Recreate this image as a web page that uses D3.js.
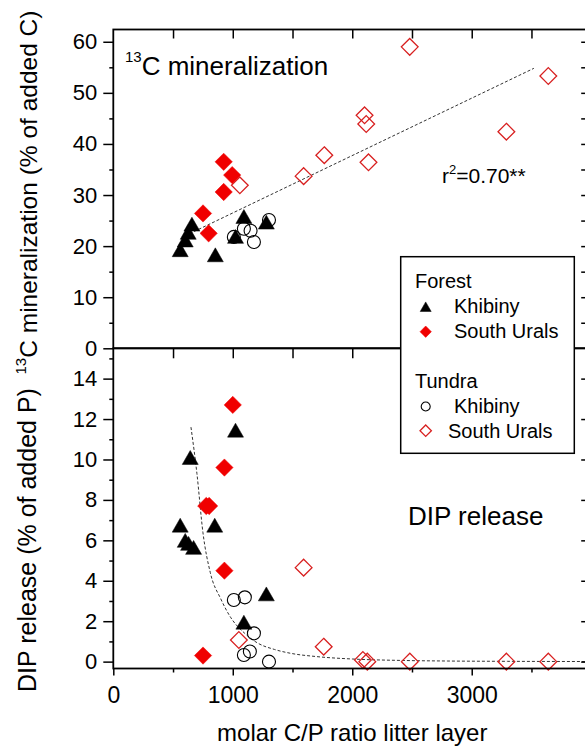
<!DOCTYPE html>
<html>
<head>
<meta charset="utf-8">
<script src="https://cdn.jsdelivr.net/npm/d3@7"></script>
<style>
  html, body { margin: 0; padding: 0; background: #fff; }
  svg { display: block; font-family: "Liberation Sans", Arial, sans-serif; }
</style>
</head>
<body>
<svg id="chart" width="585" height="747"></svg>
<script>
// ---------- DATA ----------
// Panel A: 13C mineralization (% of added C) vs molar C/P ratio
const forestKhibinyCP_C = [560, 602, 627, 658, 854, 1023, 1093, 1281];
const forestKhibinyMin  = [19.3, 21.2, 22.7, 24.3, 18.3, 21.9, 25.8, 24.7];
const forestUralsCP_C   = [751, 798, 924, 924, 995];
const forestUralsMin    = [26.4, 22.5, 36.5, 30.6, 33.9];
const tundraKhibinyCP_C = [1009, 1093, 1149, 1177, 1303];
const tundraKhibinyMin  = [21.8, 23.4, 23.0, 20.8, 25.1];
const tundraUralsCP_C   = [1059, 1593, 1766, 2103, 2117, 2136, 2481, 3290, 3641];
const tundraUralsMin    = [31.9, 33.7, 37.8, 45.6, 43.9, 36.4, 59.0, 42.4, 53.3];

// Panel B: DIP release (% of added P) vs molar C/P ratio
const forestKhibinyCP_P = [560, 602, 630, 672, 644, 849, 1023, 1093, 1281];
const forestKhibinyDIP  = [6.75, 6.0, 5.85, 5.65, 10.1, 6.75, 11.45, 1.95, 3.35];
const forestUralsCP_P   = [751, 778, 802, 930, 930, 1000];
const forestUralsDIP    = [0.3, 7.7, 7.7, 4.5, 9.6, 12.7];
const tundraKhibinyCP_P = [1009, 1101, 1177, 1093, 1143, 1303];
const tundraKhibinyDIP  = [3.05, 3.18, 1.4, 0.33, 0.5, 0.0];
const tundraUralsCP_P   = [1051, 1593, 1761, 2089, 2126, 2482, 3290, 3641];
const tundraUralsDIP    = [1.07, 4.65, 0.74, 0.08, 0.0, 0.0, 0.0, 0.0];

// Fitted trend lines
const minFitCP  = [600, 3520];
const minFitVal = [22.0, 54.8];
const dipFitCP  = [650, 700, 750, 812, 900, 981, 1100, 1205, 1350, 1486, 1700, 2000, 2400, 2800, 3300, 4000];
const dipFitVal = [11.6, 9.3, 6.4, 4.4, 3.1, 2.2, 1.4, 0.93, 0.6, 0.41, 0.25, 0.13, 0.06, 0.03, 0.015, 0.005];

// Ticks
const xTickLabels = [0, 1000, 2000, 3000];
const xMinorTicks = [500, 1500, 2500, 3500];
const xFrameTicks = [500, 1000, 1500, 2000, 2500, 3000, 3500];
const cTicks = [0, 10, 20, 30, 40, 50, 60];
const cMinor = [5, 15, 25, 35, 45, 55];
const cRight = [5, 10, 15, 20, 25, 30, 35, 40, 45, 50, 55, 60];
const pTicks = [0, 2, 4, 6, 8, 10, 12, 14];
const pMinor = [1, 3, 5, 7, 9, 11, 13, 15];

// Legend
const legendGroups = ["Forest", "Tundra"];
const legendSites  = ["Khibiny", "South Urals"];

// ---------- DRAWING ----------
const svg = d3.select("#chart");
const FONT = '"Liberation Sans", Arial, sans-serif';
const RED = "#f00000";

const x = d3.scaleLinear().domain([0, 4000]).range([113.3, 591.2]);
const yC = d3.scaleLinear().domain([0, 62.4]).range([348.3, 29.5]);
const yP = d3.scaleLinear().domain([-0.34, 15.5]).range([668.5, 348.3]);

const L = x.range()[0], R = x.range()[1];

// custom symbol types
const triangleType = {
  draw(ctx, size) {
    const w = Math.sqrt(size), h = w * 0.87;
    ctx.moveTo(0, -h / 2);
    ctx.lineTo(w / 2, h / 2);
    ctx.lineTo(-w / 2, h / 2);
    ctx.closePath();
  }
};
const diamondType = {
  draw(ctx, size) {
    const d = Math.sqrt(size) / 2;
    ctx.moveTo(0, -d);
    ctx.lineTo(d, 0);
    ctx.lineTo(0, d);
    ctx.lineTo(-d, 0);
    ctx.closePath();
  }
};

function zip(a, b) { return a.map((v, i) => [v, b[i]]); }

function drawSeries(g, yScale, xs, ys, kind, big) {
  let gen, fill, stroke, sw;
  if (kind === "tri") { gen = d3.symbol().type(triangleType).size(big ? 256 : 121); fill = "#000"; stroke = "#000"; sw = 0.5; }
  if (kind === "dia") { gen = d3.symbol().type(diamondType).size(big ? 300 : 130); fill = RED; stroke = RED; sw = 0.5; }
  if (kind === "circ") { gen = d3.symbol().type(d3.symbolCircle).size(big ? Math.PI * 6.5 * 6.5 : Math.PI * 4.5 * 4.5); fill = "none"; stroke = "#000"; sw = 1.1; }
  if (kind === "odia") { gen = d3.symbol().type(diamondType).size(big ? 280 : 130); fill = "none"; stroke = "#d82020"; sw = 1.3; }
  g.selectAll(null).data(zip(xs, ys)).enter().append("path")
    .attr("d", gen)
    .attr("transform", d => `translate(${x(d[0])},${yScale(d[1])})`)
    .attr("fill", fill).attr("stroke", stroke).attr("stroke-width", sw);
}

// --- fit lines ---
svg.append("path")
  .datum(zip(minFitCP, minFitVal))
  .attr("d", d3.line().x(d => x(d[0])).y(d => yC(d[1])))
  .attr("fill", "none").attr("stroke", "#333").attr("stroke-width", 1)
  .attr("stroke-dasharray", "3,2");

svg.append("path")
  .datum(zip(dipFitCP, dipFitVal))
  .attr("d", d3.line().x(d => x(d[0])).y(d => yP(d[1])).curve(d3.curveMonotoneX))
  .attr("fill", "none").attr("stroke", "#333").attr("stroke-width", 1)
  .attr("stroke-dasharray", "3,2");

// --- markers ---
const gA = svg.append("g");
drawSeries(gA, yC, tundraKhibinyCP_C, tundraKhibinyMin, "circ", true);
drawSeries(gA, yC, tundraUralsCP_C, tundraUralsMin, "odia", true);
drawSeries(gA, yC, forestUralsCP_C, forestUralsMin, "dia", true);
drawSeries(gA, yC, forestKhibinyCP_C, forestKhibinyMin, "tri", true);

const gB = svg.append("g");
drawSeries(gB, yP, tundraKhibinyCP_P, tundraKhibinyDIP, "circ", true);
drawSeries(gB, yP, tundraUralsCP_P, tundraUralsDIP, "odia", true);
drawSeries(gB, yP, forestUralsCP_P, forestUralsDIP, "dia", true);
drawSeries(gB, yP, forestKhibinyCP_P, forestKhibinyDIP, "tri", true);

// --- frames ---
const frame = svg.append("g").attr("fill", "none").attr("stroke", "#000").attr("stroke-width", 1.8);
frame.append("rect").attr("x", L).attr("y", yC.range()[1]).attr("width", R - L).attr("height", yC.range()[0] - yC.range()[1]);
frame.append("rect").attr("x", L).attr("y", yP.range()[1]).attr("width", R - L).attr("height", yP.range()[0] - yP.range()[1]);

// --- axes ---
function styleAxis(g, fontSize) {
  g.select(".domain").remove();
  g.selectAll("line").attr("stroke", "#000").attr("stroke-width", 1.5);
  g.selectAll("text").attr("font-family", FONT).attr("font-size", fontSize).attr("fill", "#000");
}

// left axes
svg.append("g").attr("transform", `translate(${L},0)`)
  .call(d3.axisLeft(yC).tickValues(cTicks).tickSize(10).tickPadding(6).tickFormat(d3.format("d")))
  .call(g => styleAxis(g, 22));
svg.append("g").attr("transform", `translate(${L},0)`)
  .call(d3.axisLeft(yC).tickValues(cMinor).tickSize(4).tickFormat(""))
  .call(g => styleAxis(g, 22));
svg.append("g").attr("transform", `translate(${L},0)`)
  .call(d3.axisLeft(yP).tickValues(pTicks).tickSize(10).tickPadding(6).tickFormat(d3.format("d")))
  .call(g => styleAxis(g, 22));
svg.append("g").attr("transform", `translate(${L},0)`)
  .call(d3.axisLeft(yP).tickValues(pMinor).tickSize(4).tickFormat(""))
  .call(g => styleAxis(g, 22));

// right axes (inward ticks)
svg.append("g").attr("transform", `translate(${R},0)`)
  .call(d3.axisLeft(yC).tickValues(cRight).tickSize(10).tickFormat(""))
  .call(g => styleAxis(g, 22));
svg.append("g").attr("transform", `translate(${R},0)`)
  .call(d3.axisLeft(yP).tickValues(pTicks).tickSize(10).tickFormat(""))
  .call(g => styleAxis(g, 22));
svg.append("g").attr("transform", `translate(${R},0)`)
  .call(d3.axisLeft(yP).tickValues(pMinor).tickSize(5).tickFormat(""))
  .call(g => styleAxis(g, 22));

// top border ticks (inward)
svg.append("g").attr("transform", `translate(0,${yC.range()[1]})`)
  .call(d3.axisBottom(x).tickValues(xFrameTicks).tickSize(9).tickFormat(""))
  .call(g => styleAxis(g, 22));
// divider ticks
svg.append("g").attr("transform", `translate(0,${yP.range()[1]})`)
  .call(d3.axisBottom(x).tickValues(xFrameTicks).tickSize(10).tickFormat(""))
  .call(g => styleAxis(g, 22));
// bottom axis
svg.append("g").attr("transform", `translate(0,${yP.range()[0]})`)
  .call(d3.axisBottom(x).tickValues(xTickLabels).tickSize(7).tickPadding(11).tickFormat(d3.format("d")))
  .call(g => styleAxis(g, 23));
svg.append("g").attr("transform", `translate(0,${yP.range()[0]})`)
  .call(d3.axisBottom(x).tickValues(xMinorTicks).tickSize(4).tickFormat(""))
  .call(g => styleAxis(g, 23));

// --- axis titles ---
svg.append("text")
  .attr("x", (L + R) / 2).attr("y", 741)
  .attr("text-anchor", "middle").attr("font-size", 24).attr("font-family", FONT)
  .text("molar C/P ratio litter layer");

const tC = svg.append("text")
  .attr("transform", "translate(37,192.5) rotate(-90)")
  .attr("text-anchor", "middle").attr("font-size", 24.5).attr("font-family", FONT);
tC.append("tspan").attr("font-size", 15).attr("dy", -11).text("13");
tC.append("tspan").attr("dy", 11).text("C mineralization (% of added C)");

svg.append("text")
  .attr("transform", "translate(36,540) rotate(-90)")
  .attr("text-anchor", "middle").attr("font-size", 25).attr("font-family", FONT)
  .text("DIP release (% of added P)");

// --- in-plot labels ---
const t1 = svg.append("text").attr("x", 125).attr("y", 75)
  .attr("font-size", 26).attr("font-family", FONT);
t1.append("tspan").attr("font-size", 15).attr("dy", -13).text("13");
t1.append("tspan").attr("dy", 13).text("C mineralization");

const t2 = svg.append("text").attr("x", 442).attr("y", 183)
  .attr("font-size", 21).attr("font-family", FONT);
t2.append("tspan").text("r");
t2.append("tspan").attr("font-size", 13).attr("dy", -9).text("2");
t2.append("tspan").attr("dy", 9).text("=0.70**");

svg.append("text").attr("x", 408).attr("y", 525)
  .attr("font-size", 26).attr("font-family", FONT).text("DIP release");

// --- legend ---
const lg = svg.append("g");
lg.append("rect").attr("x", 400.7).attr("y", 256.7).attr("width", 173.6).attr("height", 196.6)
  .attr("fill", "#fff").attr("stroke", "#000").attr("stroke-width", 1.5);

const legendRows = [
  { type: "head", text: legendGroups[0], y: 288 },
  { type: "tri",  text: legendSites[0], y: 313, sy: 306.7, tx: 454 },
  { type: "dia",  text: legendSites[1], y: 338, sy: 331.7, tx: 454 },
  { type: "head", text: legendGroups[1], y: 388 },
  { type: "circ", text: legendSites[0], y: 413, sy: 406.5, tx: 454 },
  { type: "odia", text: legendSites[1], y: 438, sy: 430.7, tx: 448 }
];
legendRows.forEach(r => {
  if (r.type === "head") {
    lg.append("text").attr("x", 415).attr("y", r.y).attr("font-size", 20).attr("font-family", FONT).text(r.text);
  } else {
    const tmpScale = d3.scaleLinear().domain([0, 1]).range([r.sy, r.sy + 1]);
    drawSeries(lg, tmpScale, [x.invert(425.7)], [0], r.type, false);
    lg.append("text").attr("x", r.tx).attr("y", r.y).attr("font-size", 20).attr("font-family", FONT).text(r.text);
  }
});
</script>
</body>
</html>
